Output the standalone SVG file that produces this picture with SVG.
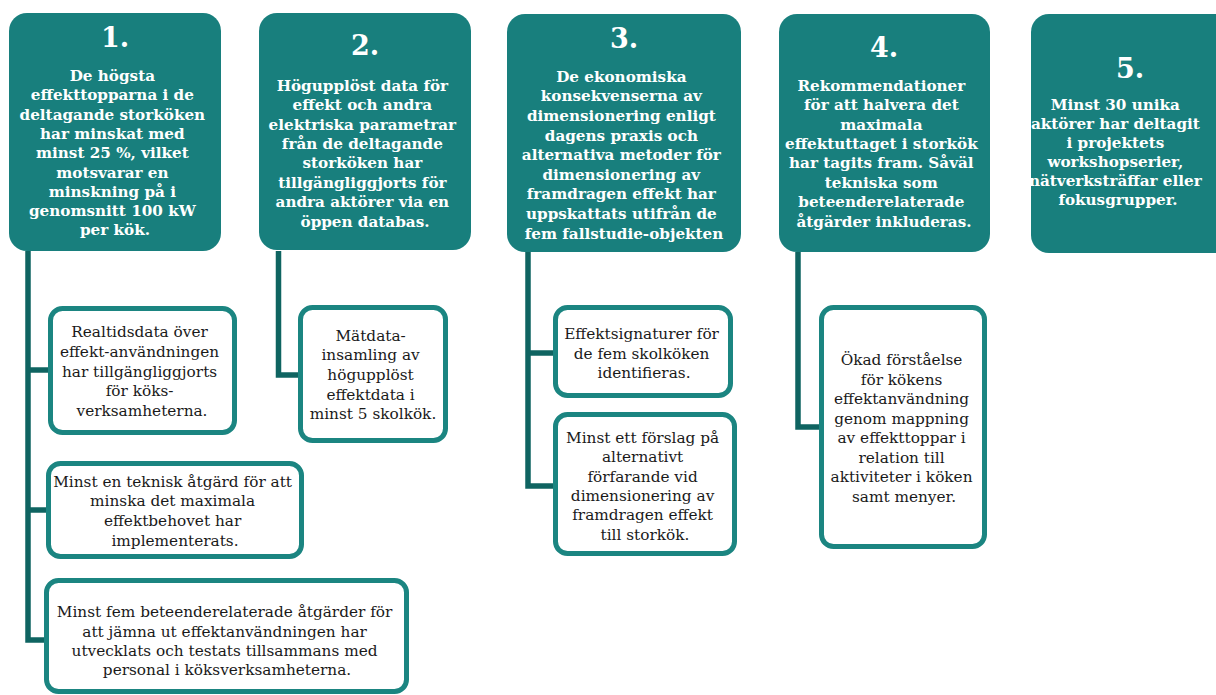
<svg xmlns="http://www.w3.org/2000/svg" width="1216" height="695" viewBox="0 0 1216 695">
  <style>
    .goal { fill: #187f7d; }
    .goal-num { font-family: "DejaVu Serif", "Liberation Serif", serif; font-weight: bold; font-size: 27px; fill: #ffffff; text-anchor: middle; }
    .goal-txt { font-family: "DejaVu Serif", "Liberation Serif", serif; font-weight: bold; font-size: 15.2px; fill: #ffffff; text-anchor: middle; }
    .sub { fill: #ffffff; stroke: #1b8581; stroke-width: 5; }
    .sub-txt { font-family: "DejaVu Serif", "Liberation Serif", serif; font-size: 15.3px; fill: #1a1a1a; text-anchor: middle; }
    .link { fill: none; stroke: #0f6461; stroke-width: 5.5; stroke-linejoin: miter; }
  </style>

  <!-- connectors -->
  <g id="connectors">
    <path class="link" d="M28,251 V640 H48"/>
    <path class="link" d="M28,370 H50"/>
    <path class="link" d="M28,510 H48"/>
    <path class="link" d="M278.5,251 V375 H300"/>
    <path class="link" d="M528,252 V486 H555"/>
    <path class="link" d="M528,353 H555"/>
    <path class="link" d="M798,252 V427 H821"/>
  </g>

  <!-- goal 1 -->
  <g id="goal1">
    <rect class="goal" x="9" y="13" width="212" height="238" rx="18"/>
    <text class="goal-num" x="115" y="47">1.</text>
    <text class="goal-txt" y="81">
      <tspan x="115">De högsta</tspan>
      <tspan x="115" dy="19.3">effekttopparna i de</tspan>
      <tspan x="115" dy="19.3">deltagande storköken</tspan>
      <tspan x="115" dy="19.3">har minskat med</tspan>
      <tspan x="115" dy="19.3">minst 25 %, vilket</tspan>
      <tspan x="115" dy="19.3">motsvarar en</tspan>
      <tspan x="115" dy="19.3">minskning på i</tspan>
      <tspan x="115" dy="19.3">genomsnitt 100 kW</tspan>
      <tspan x="115" dy="19.3">per kök.</tspan>
    </text>
  </g>

  <!-- goal 2 -->
  <g id="goal2">
    <rect class="goal" x="259" y="13" width="212" height="237" rx="18"/>
    <text class="goal-num" x="365" y="55">2.</text>
    <text class="goal-txt" y="90.7">
      <tspan x="365">Högupplöst data för</tspan>
      <tspan x="365" dy="19.4">effekt och andra</tspan>
      <tspan x="365" dy="19.4">elektriska parametrar</tspan>
      <tspan x="365" dy="19.4">från de deltagande</tspan>
      <tspan x="365" dy="19.4">storköken har</tspan>
      <tspan x="365" dy="19.4">tillgängliggjorts för</tspan>
      <tspan x="365" dy="19.4">andra aktörer via en</tspan>
      <tspan x="365" dy="19.4">öppen databas.</tspan>
    </text>
  </g>

  <!-- goal 3 -->
  <g id="goal3">
    <rect class="goal" x="507" y="14" width="234" height="238" rx="18"/>
    <text class="goal-num" x="624" y="48">3.</text>
    <text class="goal-txt" y="81.7">
      <tspan x="624">De ekonomiska</tspan>
      <tspan x="624" dy="19.6">konsekvenserna av</tspan>
      <tspan x="624" dy="19.6">dimensionering enligt</tspan>
      <tspan x="624" dy="19.6">dagens praxis och</tspan>
      <tspan x="624" dy="19.6">alternativa metoder för</tspan>
      <tspan x="624" dy="19.6">dimensionering av</tspan>
      <tspan x="624" dy="19.6">framdragen effekt har</tspan>
      <tspan x="624" dy="19.6">uppskattats utifrån de</tspan>
      <tspan x="624" dy="19.6">fem fallstudie-objekten</tspan>
    </text>
  </g>

  <!-- goal 4 -->
  <g id="goal4">
    <rect class="goal" x="779" y="14" width="211" height="238" rx="18"/>
    <text class="goal-num" x="884" y="57">4.</text>
    <text class="goal-txt" y="90.7">
      <tspan x="884">Rekommendationer</tspan>
      <tspan x="884" dy="19.4">för att halvera det</tspan>
      <tspan x="884" dy="19.4">maximala</tspan>
      <tspan x="884" dy="19.4">effektuttaget i storkök</tspan>
      <tspan x="884" dy="19.4">har tagits fram. Såväl</tspan>
      <tspan x="884" dy="19.4">tekniska som</tspan>
      <tspan x="884" dy="19.4">beteenderelaterade</tspan>
      <tspan x="884" dy="19.4">åtgärder inkluderas.</tspan>
    </text>
  </g>

  <!-- goal 5 -->
  <g id="goal5">
    <rect class="goal" x="1031" y="14" width="212" height="239" rx="18"/>
    <text class="goal-num" x="1130" y="78">5.</text>
    <text class="goal-txt" y="110">
      <tspan x="1118">Minst 30 unika</tspan>
      <tspan x="1118" dy="19">aktörer har deltagit</tspan>
      <tspan x="1118" dy="19">i projektets</tspan>
      <tspan x="1118" dy="19">workshopserier,</tspan>
      <tspan x="1118" dy="19">nätverksträffar eller</tspan>
      <tspan x="1118" dy="19">fokusgrupper.</tspan>
    </text>
  </g>

  <!-- sub-results of goal 1 -->
  <g id="sub1a">
    <rect class="sub" x="50.5" y="308.5" width="184" height="124" rx="12"/>
    <text class="sub-txt" y="337.3">
      <tspan x="142">Realtidsdata över</tspan>
      <tspan x="142" dy="19.7">effekt-användningen</tspan>
      <tspan x="142" dy="19.7">har tillgängliggjorts</tspan>
      <tspan x="142" dy="19.7">för köks-</tspan>
      <tspan x="142" dy="19.7">verksamheterna.</tspan>
    </text>
  </g>
  <g id="sub1b">
    <rect class="sub" x="48.5" y="463.5" width="253" height="93" rx="12"/>
    <text class="sub-txt" y="486.7">
      <tspan x="175">Minst en teknisk åtgärd för att</tspan>
      <tspan x="175" dy="19.7">minska det maximala</tspan>
      <tspan x="175" dy="19.7">effektbehovet har</tspan>
      <tspan x="175" dy="19.7">implementerats.</tspan>
    </text>
  </g>
  <g id="sub1c">
    <rect class="sub" x="46.5" y="580.5" width="360" height="111" rx="12"/>
    <text class="sub-txt" y="617.3">
      <tspan x="227">Minst fem beteenderelaterade åtgärder för</tspan>
      <tspan x="227" dy="19.3">att jämna ut effektanvändningen har</tspan>
      <tspan x="227" dy="19.3">utvecklats och testats tillsammans med</tspan>
      <tspan x="227" dy="19.3">personal i köksverksamheterna.</tspan>
    </text>
  </g>

  <!-- sub-result of goal 2 -->
  <g id="sub2">
    <rect class="sub" x="300.5" y="307.5" width="145" height="133" rx="12"/>
    <text class="sub-txt" y="340.7">
      <tspan x="373">Mätdata-</tspan>
      <tspan x="373" dy="19.6">insamling av</tspan>
      <tspan x="373" dy="19.6">högupplöst</tspan>
      <tspan x="373" dy="19.6">effektdata i</tspan>
      <tspan x="373" dy="19.6">minst 5 skolkök.</tspan>
    </text>
  </g>

  <!-- sub-results of goal 3 -->
  <g id="sub3a">
    <rect class="sub" x="555.5" y="307.5" width="175" height="88" rx="12"/>
    <text class="sub-txt" y="339.3">
      <tspan x="644">Effektsignaturer för</tspan>
      <tspan x="644" dy="19.5">de fem skolköken</tspan>
      <tspan x="644" dy="19.5">identifieras.</tspan>
    </text>
  </g>
  <g id="sub3b">
    <rect class="sub" x="555.5" y="414.5" width="179" height="139" rx="12"/>
    <text class="sub-txt" y="442.7">
      <tspan x="645">Minst ett förslag på</tspan>
      <tspan x="645" dy="19.4">alternativt</tspan>
      <tspan x="645" dy="19.4">förfarande vid</tspan>
      <tspan x="645" dy="19.4">dimensionering av</tspan>
      <tspan x="645" dy="19.4">framdragen effekt</tspan>
      <tspan x="645" dy="19.4">till storkök.</tspan>
    </text>
  </g>

  <!-- sub-result of goal 4 -->
  <g id="sub4">
    <rect class="sub" x="821.5" y="307.5" width="163" height="239" rx="12"/>
    <text class="sub-txt" y="365">
      <tspan x="904">Ökad förståelse</tspan>
      <tspan x="904" dy="19.5">för kökens</tspan>
      <tspan x="904" dy="19.5">effektanvändning</tspan>
      <tspan x="904" dy="19.5">genom mappning</tspan>
      <tspan x="904" dy="19.5">av effekttoppar i</tspan>
      <tspan x="904" dy="19.5">relation till</tspan>
      <tspan x="904" dy="19.5">aktiviteter i köken</tspan>
      <tspan x="904" dy="19.5">samt menyer.</tspan>
    </text>
  </g>
</svg>
